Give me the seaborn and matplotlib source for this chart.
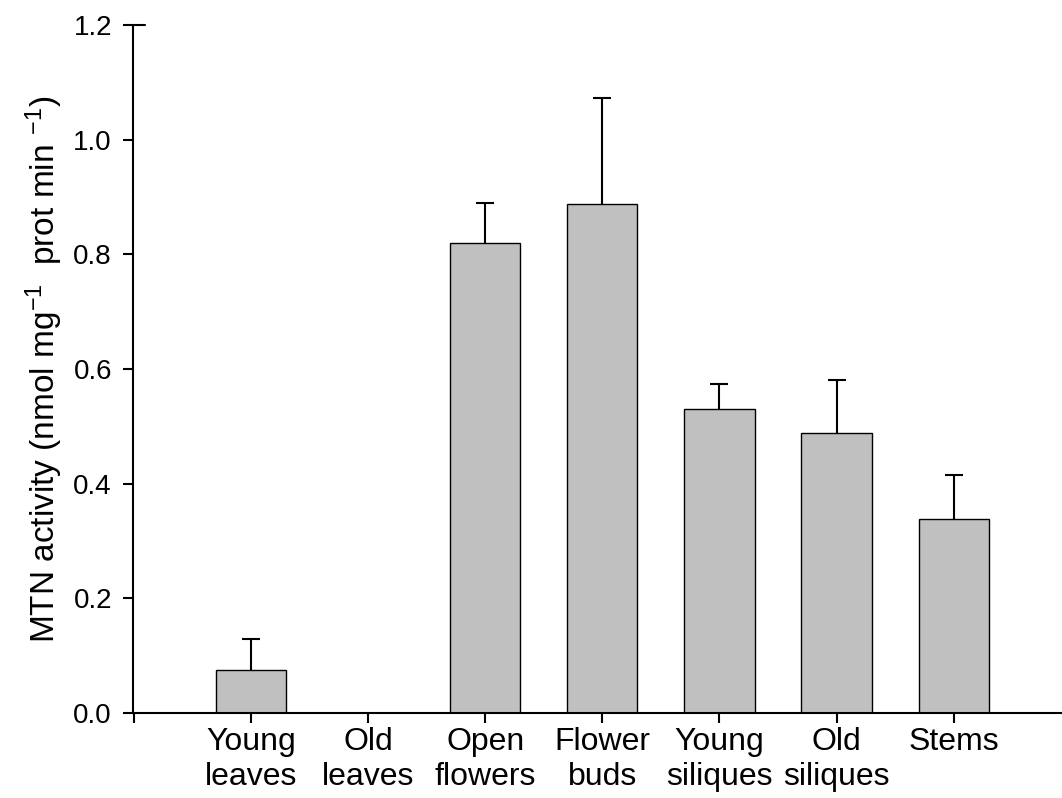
import numpy as np
import pandas as pd
import matplotlib
matplotlib.use("Agg")
import matplotlib.pyplot as plt
import seaborn as sns

# values
tissues = ["Young\nleaves", "Old\nleaves", "Open\nflowers", "Flower\nbuds",
           "Young\nsiliques", "Old\nsiliques", "Stems"]
activity = [0.075, 0.0, 0.819, 0.887, 0.530, 0.488, 0.338]
err_up = [0.054, 0.0, 0.071, 0.186, 0.044, 0.093, 0.077]
yticks = [0.0, 0.2, 0.4, 0.6, 0.8, 1.0, 1.2]

df = pd.DataFrame({"tissue": tissues, "activity": activity, "err": err_up})

sns.set_style("ticks")
plt.rcParams["font.family"] = ["Liberation Sans", "DejaVu Sans"]
plt.rcParams["mathtext.fontset"] = "custom"
plt.rcParams["mathtext.rm"] = "Liberation Sans"
plt.rcParams["mathtext.it"] = "Liberation Sans:italic"
for k in ["text.color", "axes.labelcolor", "xtick.color", "ytick.color",
          "axes.edgecolor"]:
    plt.rcParams[k] = "black"

fig = plt.figure(figsize=(10.62, 7.98), dpi=100)
ax = fig.add_axes([133 / 1062, 85 / 798, 929 / 1062, 688 / 798])

sns.barplot(data=df, x="tissue", y="activity", color="#c0c0c0",
            edgecolor="black", linewidth=1.0, width=0.6, saturation=1,
            errorbar=None, ax=ax)

# upper error bars only, skip the zero one
pos = np.arange(len(tissues))
m = df["err"].to_numpy() > 0
_, caps, _ = ax.errorbar(pos[m], df["activity"][m],
                         yerr=[np.zeros(m.sum()), df["err"][m]],
                         fmt="none", ecolor="black", elinewidth=1.5,
                         capsize=6.8, capthick=1.5, zorder=3)
caps[0].set_visible(False)

ax.set_xlim(-1.008, 6.925)
ax.set_ylim(0, 1.2)
ax.set_yticks(yticks)
ax.set_yticklabels([f"{v:.1f}" for v in yticks], fontsize=20)
ax.set_xticks(range(-1, len(tissues)))
ax.set_xticklabels([""] + tissues, fontsize=23, linespacing=1.2)
ax.set_xlabel("")
ax.set_ylabel("MTN activity (nmol mg$^{-1}$  prot min $^{-1}$)", fontsize=24,
              labelpad=6)

for s in ["top", "right"]:
    ax.spines[s].set_visible(False)
for s in ["left", "bottom"]:
    ax.spines[s].set_linewidth(1.5)
ax.tick_params(axis="both", direction="out", length=7.2, width=1.5)
ax.tick_params(axis="y", pad=8)
ax.tick_params(axis="x", pad=3)

# short line at the top of the y axis
ax.axhline(1.2, xmin=0, xmax=12 / 929, color="black", lw=1.5, clip_on=False)

fig.savefig("out.png", dpi=100)
